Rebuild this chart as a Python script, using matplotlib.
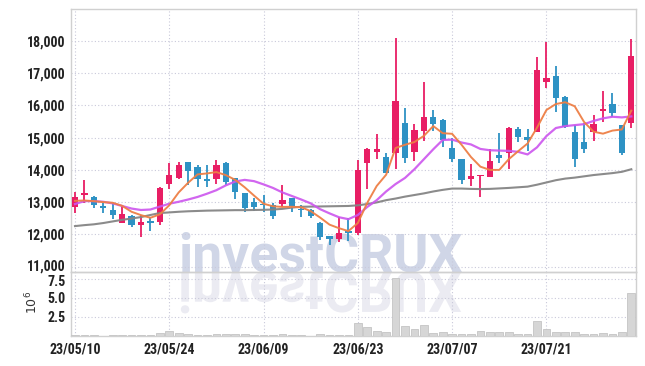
import matplotlib
matplotlib.use("Agg")
import matplotlib.pyplot as plt
import numpy as np
from matplotlib import font_manager
from matplotlib.font_manager import FontProperties
from matplotlib.patches import PathPatch
from matplotlib.textpath import TextPath
from matplotlib.transforms import Affine2D, ScaledTranslation

# ---- data ----
DATE_TICKS = ["23/05/10", "23/05/24", "23/06/09", "23/06/23", "23/07/07", "23/07/21"]
DATE_TICK_POS = [0, 10, 20, 30, 40, 50]

OPEN = [12854, 13208, 13146, 12850, 12750, 12360, 12556, 12295, 12410, 12370,
        13550, 13755, 14233, 14096, 13700, 13705, 14220, 13755, 13289, 13010,
        12920, 12907, 12929, 13134, 12760, 12752, 12357, 11944, 11850, 12099,
        12027, 14220, 14562, 14407, 14531, 15444, 14562, 15214, 15630, 15547,
        14668, 14335, 13724, 13795, 13786, 14460, 14531, 15267, 15028, 15183,
        16736, 16913, 16270, 15183, 14873, 15165, 15835, 16043, 15391, 15444]
HIGH = [13300, 13680, 13190, 12980, 12980, 12900, 12590, 12587, 12525, 13475,
        14220, 14252, 14240, 14149, 14149, 14304, 14230, 13760, 13290, 13134,
        13217, 12960, 13528, 13140, 12907, 12800, 12388, 11950, 12545, 12494,
        14304, 14668, 15112, 14530, 18084, 15910, 15422, 16717, 15857, 15568,
        14978, 14340, 14171, 13810, 14637, 15134, 15339, 15339, 15258, 17494,
        17978, 17224, 16300, 15391, 15444, 15702, 16447, 16375, 15400, 18053]
LOW = [12670, 12960, 12820, 12650, 12470, 12340, 12240, 11922, 12109, 12286,
       13394, 13705, 13528, 13475, 13475, 13550, 13528, 13084, 12680, 12720,
       12700, 12472, 12854, 12700, 12545, 12520, 11820, 11665, 11770, 11800,
       11975, 13394, 14326, 13910, 14016, 14202, 14283, 14894, 15205, 14699,
       14233, 13568, 13497, 13165, 13770, 14202, 14016, 14855, 14593, 15183,
       16531, 15805, 15310, 14096, 14513, 14894, 15494, 15649, 14460, 15289]
CLOSE = [13146, 13270, 12898, 12830, 12600, 12627, 12295, 12388, 12350, 13425,
         13838, 14149, 13972, 13705, 13660, 14149, 13630, 13320, 12804, 12854,
         12900, 12575, 13062, 12876, 12745, 12575, 11922, 11860, 12027, 12027,
         13994, 14646, 14646, 13910, 16137, 14376, 15236, 15630, 15422, 14925,
         14335, 13683, 13807, 13807, 14273, 14376, 15289, 15028, 14925, 17099,
         16841, 16239, 15320, 14326, 14637, 15413, 15888, 15755, 14531, 17534]

# volume, millions
VOLUME = [0.09, 0.09, 0.09, 0.02, 0.09, 0.09, 0.09, 0.17, 0.09, 0.43,
          0.72, 0.35, 0.30, 0.17, 0.17, 0.30, 0.22, 0.30, 0.30, 0.09,
          0.09, 0.09, 0.30, 0.09, 0.09, 0.05, 0.30, 0.09, 0.17, 0.09,
          1.72, 1.20, 0.70, 0.50, 7.60, 1.30, 0.87, 1.48, 0.35, 0.57,
          0.30, 0.30, 0.30, 0.70, 0.57, 0.57, 0.57, 0.30, 0.30, 2.02,
          0.96, 0.57, 0.48, 0.57, 0.30, 0.30, 0.43, 0.30, 0.57, 5.63]

MA_SHORT = [13040, 13050, 13030, 13000, 12980, 12885, 12700, 12596, 12513, 12620,
            12900, 13300, 13600, 13860, 13890, 13932, 13838, 13690, 13460, 13200,
            12950, 12870, 12850, 12855, 12840, 12720, 12520, 12300, 12190, 12100,
            12350, 12980, 13500, 13850, 14680, 14780, 14865, 15055, 15360, 15140,
            15120, 14780, 14400, 14100, 14000, 14000, 14330, 14580, 14820, 15310,
            15860, 16045, 16100, 15975, 15485, 15185, 15125, 15220, 15255, 15840]
MA_MID = [12940, 13030, 13030, 13010, 12960, 12880, 12800, 12755, 12770, 12860,
          12950, 13010, 13080, 13160, 13260, 13370, 13520, 13640, 13690, 13650,
          13550, 13440, 13300, 13190, 13080, 12960, 12780, 12650, 12530, 12470,
          12600, 12850, 13060, 13330, 13560, 13750, 14020, 14330, 14640, 14930,
          14940, 14850, 14790, 14650, 14610, 14600, 14590, 14560, 14480, 14700,
          15050, 15300, 15360, 15390, 15420, 15520, 15600, 15650, 15630, 15660]
MA_LONG = [12255, 12285, 12310, 12350, 12400, 12450, 12490, 12535, 12600, 12660,
           12680, 12700, 12715, 12725, 12735, 12740, 12745, 12750, 12750, 12755,
           12760, 12770, 12790, 12830, 12855, 12860, 12865, 12870, 12875, 12880,
           12900, 12940, 12990, 13060, 13110, 13170, 13220, 13270, 13330, 13380,
           13420, 13420, 13410, 13405, 13410, 13425, 13440, 13460, 13480, 13540,
           13610, 13680, 13730, 13760, 13800, 13840, 13870, 13900, 13940, 14020]

PRICE_TICKS = [11000, 12000, 13000, 14000, 15000, 16000, 17000, 18000]
VOL_TICKS = [2.5, 5.0, 7.5]

UP = "#e81e64"
DOWN = "#2e92c4"
GRID = "#c9c9da"
EDGE = "#d0d0d0"
TXT = "#222222"

_have = {f.name for f in font_manager.fontManager.ttflist}
NARROW = None
for name in ("Roboto Condensed", "Liberation Sans Narrow", "Open Sans Condensed", "Roboto"):
    if name in _have:
        NARROW = name
        break
TICK_FONT = [NARROW, "DejaVu Sans"] if NARROW else ["DejaVu Sans"]
TICK_SIZE = 10.0 if NARROW in ("Roboto Condensed", "Liberation Sans Narrow") else 9.0
WM_FONT = "Roboto" if "Roboto" in _have else "Liberation Sans"

W, H = 645, 366
fig = plt.figure(figsize=(W / 100, H / 100), dpi=100)
fig.patch.set_facecolor("white")

ax = fig.add_axes([71 / W, 1 - 272 / H, (636 - 71) / W, (272 - 9) / H])
axv = fig.add_axes([71 / W, 1 - 336 / H, (636 - 71) / W, (336 - 272) / H], sharex=ax)
for a in (ax, axv):
    a.set_facecolor("none")
    for s in a.spines.values():
        s.set_color(EDGE)
        s.set_linewidth(1.0)
    a.grid(True, color=GRID, linestyle=(0, (1, 2)), linewidth=0.8)
    a.set_axisbelow(True)
    a.tick_params(length=0, colors=TXT)

# watermark (real text) + its mirrored reflection, behind everything
wm_size = 38.5
wm_x = 178
base = H - 272
fig.text(wm_x / W, base / H, "investCRUX", fontsize=wm_size, fontweight="bold",
         family=[WM_FONT, "DejaVu Sans"], color="#d0d6e7", ha="left", va="baseline",
         zorder=-2)
prop = FontProperties(family=[WM_FONT, "DejaVu Sans"], weight="bold")
tp = TextPath((0, 0), "investCRUX", size=wm_size * 100 / 72, prop=prop)
tr_dn = Affine2D().scale(1, -1.05).translate(wm_x, base)
to_fig = Affine2D().scale(1 / W, 1 / H) + fig.transFigure
fig.add_artist(PathPatch(tp, transform=tr_dn + to_fig, facecolor="#ebebf2",
                         edgecolor="none", zorder=-3))

x = np.arange(len(OPEN))
o = np.array(OPEN, float)
c = np.array(CLOSE, float)
up = c >= o
colors = np.where(up, UP, DOWN)
bottoms = np.minimum(o, c)
heights = np.maximum(np.abs(c - o), 45)

ax.vlines(x, LOW, HIGH, colors=colors, linewidth=1.3, zorder=3)
ax.bar(x, heights, bottom=bottoms, width=0.66, color=colors, linewidth=0, zorder=4)

ax.plot(x, MA_LONG, color="#858585", linewidth=1.5, alpha=0.95, zorder=5)
ax.plot(x, MA_MID, color="#cc55ee", linewidth=1.6, alpha=0.9, zorder=5)
ax.plot(x, MA_SHORT, color="#ee7f45", linewidth=1.4, alpha=0.95, zorder=6)

ax.set_xlim(-0.42, 59.5)
ax.set_ylim(10830, 18995)
ax.set_yticks(PRICE_TICKS)
ax.set_yticklabels([f"{v:,}" for v in PRICE_TICKS])
ax.set_xticks(DATE_TICK_POS)
ax.tick_params(axis="x", labelbottom=False)

axv.bar(x, VOLUME, width=0.82, color="#d6d6d6", edgecolor="#c4c4c4",
        linewidth=0.6, zorder=3)
axv.set_ylim(0, 8.41)
axv.set_yticks(VOL_TICKS)
axv.set_yticklabels([f"{v:.1f}" for v in VOL_TICKS])
axv.set_xticks(DATE_TICK_POS)
axv.set_xticklabels(DATE_TICKS)

for lab in ax.get_yticklabels() + axv.get_yticklabels() + axv.get_xticklabels():
    lab.set_fontfamily(TICK_FONT)
    lab.set_fontweight("bold")
    lab.set_fontsize(TICK_SIZE)
    lab.set_color(TXT)
ax.tick_params(axis="y", pad=4)
axv.tick_params(axis="y", pad=4)
axv.tick_params(axis="x", pad=5)

# the two labels at the panel seam sit tight; nudge them apart by a hair
nudge_up = ScaledTranslation(0, 1.2 / 72, fig.dpi_scale_trans)
nudge_dn = ScaledTranslation(0, -1.2 / 72, fig.dpi_scale_trans)
lab_lo = ax.get_yticklabels()[0]
lab_lo.set_transform(lab_lo.get_transform() + nudge_up)
lab_hi = axv.get_yticklabels()[-1]
lab_hi.set_transform(lab_hi.get_transform() + nudge_dn)

fig.text(32 / W, 1 - 302 / H, r"$10^6$", rotation=90, ha="center", va="center",
         fontsize=9, color="#333333")

fig.savefig("out.png", dpi=100)
